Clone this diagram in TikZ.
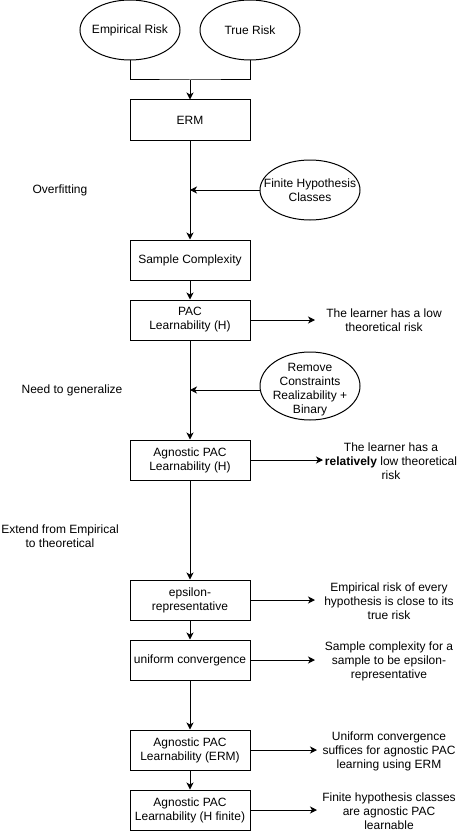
\documentclass[tikz,border=0pt]{standalone}
\usepackage{fontspec}
\setmainfont{Liberation Sans}
\usetikzlibrary{arrows.meta,shapes.geometric}
\begin{document}
\begin{tikzpicture}[x=1pt,y=-1pt,
  every node/.style={font=\fontsize{12}{14}\selectfont, align=center, inner sep=0pt, text=black},
  box/.style={draw, line width=1pt, minimum width=120pt, minimum height=40pt},
  ell/.style={draw, ellipse, line width=1pt, minimum width=100pt, minimum height=60pt},
  ln/.style={line width=1pt},
  arr/.style={line width=1pt, -{Stealth[length=7pt,width=7pt,inset=2pt]}}]
\useasboundingbox (0,0) rectangle (462,832);
% ellipses
\node[ell, label={center:Empirical Risk}] (er) at (130,30) {};
\node[ell, label={center:True Risk}] (tr) at (250,30) {};
\node[ell, label={[align=center]center:Finite Hypothesis\\Classes}] (fh) at (310,190) {};
\node[ell, minimum height=68pt, label={[align=center,yshift=-4pt]center:Remove\\Constraints\\Realizability +\\Binary}] (rc) at (310,386) {};
% boxes
\node[box] (erm) at (190,120) {ERM};
\node[box] (sc) at (190,260) {Sample Complexity};
\node[box] (pac) at (190,320) {PAC\\Learnability (H)};
\node[box] (apac) at (190,460) {Agnostic PAC\\Learnability (H)};
\node[box] (eps) at (190,600) {epsilon-\\representative};
\node[box] (uc) at (190,660) {uniform convergence};
\node[box] (aerm) at (190,750) {Agnostic PAC\\Learnability (ERM)};
\node[box] (afin) at (190,810) {Agnostic PAC\\Learnability (H finite)};
% side labels
\node (ov) at (60,190) {Overfitting};
\node (ng) at (72,390) {Need to generalize};
\node (ex) at (60,536) {Extend from Empirical\\to theoretical};
% right texts
\node (t1) at (384,320) {The learner has a low\\theoretical risk};
\node (t2) at (391,461) {The learner has a\\\textbf{relatively} low theoretical\\risk};
\node (t3) at (389,601) {Empirical risk of every\\hypothesis is close to its\\true risk};
\node (t4) at (389,661) {Sample complexity for a\\sample to be epsilon-\\representative};
\node (t5) at (389,751) {Uniform convergence\\suffices for agnostic PAC\\learning using ERM};
\node (t6) at (389,811) {Finite hypothesis classes\\are agnostic PAC\\learnable};
% coordinates
\coordinate (j1) at (190,80);
\coordinate (m1) at (190,190);
\coordinate (m2) at (190,390);
\coordinate (a1) at (315,320);
\coordinate (a2) at (323,460);
\coordinate (a3) at (315,600);
\coordinate (a4) at (315,660);
\coordinate (a5) at (317,750);
\coordinate (a6) at (317,810);
% connectors
\draw[ln] (er.south) |- (j1) -| (tr.south);
\draw[arr] (j1) -- (erm.north);
\draw[arr] (erm.south) -- (sc.north);
\draw[arr] (fh.west) -- (m1);
\draw[arr] (sc.south) -- (pac.north);
\draw[arr] (pac.south) -- (apac.north);
\draw[arr] (rc.west |- m2) -- (m2);
\draw[arr] (apac.south) -- (eps.north);
\draw[arr] (eps.south) -- (uc.north);
\draw[arr] (uc.south) -- (aerm.north);
\draw[arr] (aerm.south) -- (afin.north);
\draw[arr] (pac.east) -- (a1);
\draw[arr] (apac.east) -- (a2);
\draw[arr] (eps.east) -- (a3);
\draw[arr] (uc.east) -- (a4);
\draw[arr] (aerm.east) -- (a5);
\draw[arr] (afin.east) -- (a6);
\end{tikzpicture}
\end{document}
